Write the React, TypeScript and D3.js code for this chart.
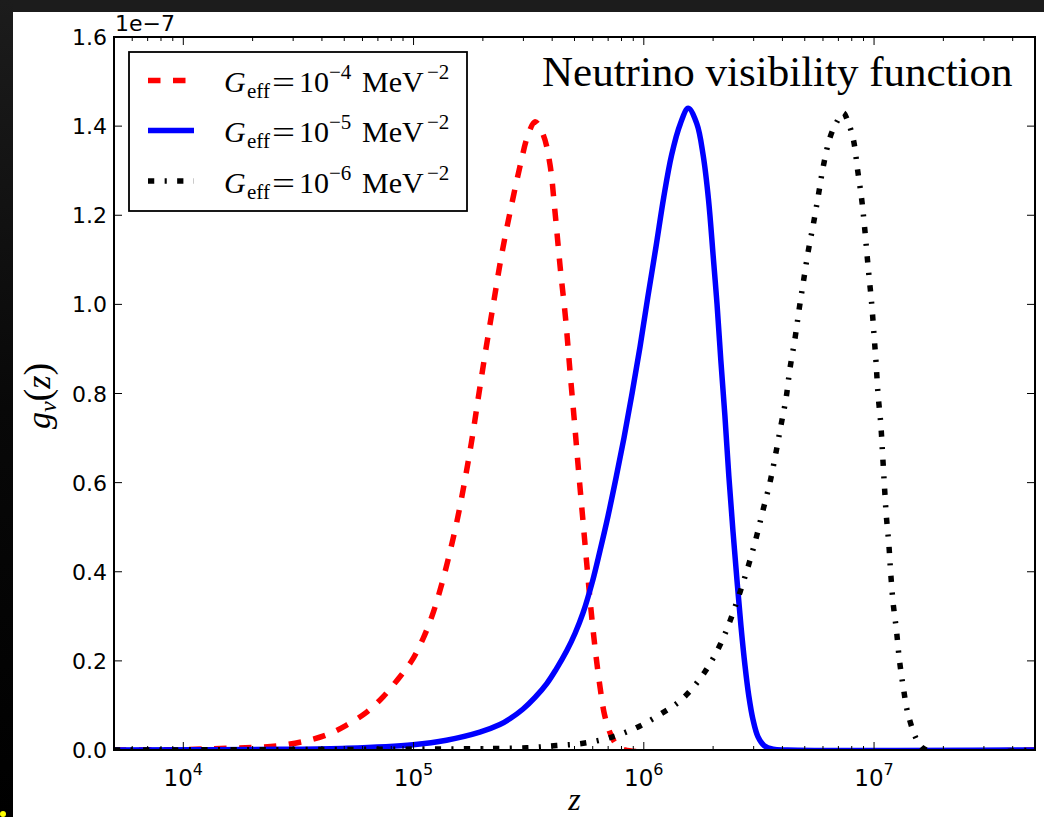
import React from 'react';
import * as d3 from 'd3';

// ---- data (g values in units of 1e-7) ----
const redZ = [5e3, 1e4, 1.6e4, 2.1e4, 2.63e4, 3.38e4, 4.2e4, 5.12e4, 6.26e4, 7.39e4, 8.59e4, 9.81e4, 1.1e5, 1.22e5, 1.33e5, 1.44e5, 1.56e5, 1.67e5, 1.79e5, 1.91e5, 2.04e5, 2.22e5, 2.41e5, 2.62e5, 2.9e5, 3.14e5, 3.37e5, 3.66e5, 3.91e5, 4.11e5, 4.33e5, 4.58e5, 4.78e5, 4.99e5, 5.20e5, 5.43e5, 5.67e5, 5.91e5, 6.17e5, 6.46e5, 6.76e5, 7.18e5, 7.64e5, 8.29e5, 5e7];
const redG = [0, 0.001, 0.004, 0.006, 0.010, 0.020, 0.034, 0.056, 0.085, 0.12, 0.16, 0.20, 0.25, 0.31, 0.375, 0.445, 0.525, 0.605, 0.695, 0.79, 0.885, 1.00, 1.11, 1.205, 1.31, 1.38, 1.41, 1.38, 1.315, 1.21, 1.085, 0.965, 0.85, 0.74, 0.63, 0.52, 0.41, 0.31, 0.22, 0.14, 0.078, 0.035, 0.011, 0, 0];

const blueZ = [5e3, 2.63e4, 5.14e4, 9.95e4, 1.39e5, 1.94e5, 2.37e5, 2.62e5, 2.99e5, 3.37e5, 3.79e5, 4.16e5, 4.62e5, 5.03e5, 5.44e5, 5.96e5, 6.45e5, 6.99e5, 7.57e5, 8.2e5, 8.89e5, 9.63e5, 1.04e6, 1.13e6, 1.22e6, 1.32e6, 1.44e6, 1.56e6, 1.70e6, 1.81e6, 1.91e6, 2.0e6, 2.08e6, 2.16e6, 2.25e6, 2.34e6, 2.44e6, 2.54e6, 2.64e6, 2.75e6, 2.86e6, 2.98e6, 3.13e6, 3.33e6, 3.64e6, 4.19e6, 5e7];
const blueG = [0, 0.0015, 0.004, 0.012, 0.022, 0.04, 0.057, 0.07, 0.092, 0.118, 0.149, 0.181, 0.222, 0.262, 0.307, 0.375, 0.447, 0.525, 0.61, 0.70, 0.80, 0.905, 1.015, 1.13, 1.24, 1.335, 1.405, 1.44, 1.405, 1.335, 1.235, 1.11, 1.00, 0.875, 0.75, 0.615, 0.49, 0.38, 0.28, 0.19, 0.12, 0.068, 0.03, 0.01, 0.002, 0, 0];

const blackZ = [5e3, 1e5, 3.1e5, 4.18e5, 5.46e5, 7.37e5, 9.63e5, 1.22e6, 1.38e6, 1.56e6, 1.84e6, 2.14e6, 2.37e6, 2.62e6, 2.87e6, 3.09e6, 3.30e6, 3.53e6, 3.71e6, 3.93e6, 4.15e6, 4.31e6, 4.54e6, 4.73e6, 4.93e6, 5.18e6, 5.45e6, 5.73e6, 6.02e6, 6.44e6, 6.9e6, 7.35e6, 7.7e6, 8.13e6, 8.49e6, 8.84e6, 9.07e6, 9.44e6, 9.77e6, 1.0e7, 1.02e7, 1.04e7, 1.07e7, 1.09e7, 1.11e7, 1.13e7, 1.16e7, 1.18e7, 1.21e7, 1.25e7, 1.29e7, 1.34e7, 1.41e7, 1.56e7, 1.69e7, 5e7];
const blackG = [0, 0.002, 0.005, 0.01, 0.015, 0.03, 0.054, 0.085, 0.103, 0.128, 0.175, 0.235, 0.29, 0.355, 0.42, 0.48, 0.54, 0.60, 0.655, 0.725, 0.79, 0.855, 0.925, 0.99, 1.05, 1.12, 1.18, 1.245, 1.31, 1.375, 1.41, 1.43, 1.41, 1.37, 1.30, 1.235, 1.18, 1.08, 1.00, 0.93, 0.87, 0.80, 0.73, 0.66, 0.59, 0.527, 0.46, 0.40, 0.33, 0.27, 0.20, 0.14, 0.077, 0.016, 0, 0];

const yTicks = [0, 0.2, 0.4, 0.6, 0.8, 1.0, 1.2, 1.4, 1.6];
const xTickExps = [4, 5, 6, 7];
const legendExps = ['\u22124', '\u22125', '\u22126'];

const W = 1044, H = 817;
const L = 114, R = 1035, T = 37, B = 750;

const series = [
  { z: redZ, g: redG, color: '#ff0000', dash: '12.5,12.5' },
  { z: blueZ, g: blueG, color: '#0000ff', dash: undefined },
  { z: blackZ, g: blackG, color: '#000000', dash: '6.25,10.4,2.1,10.4' },
];

export default function App() {
  const x = d3.scaleLog().domain([5e3, 5e7]).range([L, R]);
  const y = d3.scaleLinear().domain([0, 1.6]).range([B, T]);
  const line = d3
    .line<[number, number]>()
    .x((d) => x(d[0]))
    .y((d) => y(d[1]))
    .curve(d3.curveCatmullRom.alpha(0.5));

  const minor: number[] = [];
  for (let e = 3; e <= 7; e++) {
    for (let k = 2; k <= 9; k++) {
      const v = k * Math.pow(10, e);
      if (v > 5e3 && v < 5e7) minor.push(v);
    }
  }
  const major = xTickExps.map((e) => Math.pow(10, e));

  const sans = 'DejaVu Sans';
  const serif = 'Liberation Serif, DejaVu Serif, serif';
  const lw = 5.5;

  const legendRows = [80.5, 130.5, 181];
  const legendX0 = 148, legendX1 = 194;

  return (
    <svg width={W} height={H} style={{ position: 'absolute', left: 0, top: 0 }}>
      <defs>
        <clipPath id="plotclip">
          <rect x={L} y={T} width={R - L} height={B - T} />
        </clipPath>
        <linearGradient id="leftband" x1="0" y1="0" x2="0" y2="1">
          <stop offset="0" stopColor="#1c1c1c" />
          <stop offset="0.5" stopColor="#080808" />
          <stop offset="1" stopColor="#000000" />
        </linearGradient>
      </defs>
      <rect x={0} y={0} width={W} height={H} fill="#ffffff" />
      <rect x={0} y={0} width={W} height={12} fill="#1c1c1c" />
      <rect x={0} y={0} width={13} height={H} fill="url(#leftband)" />
      <circle cx={3} cy={814} r={3} fill="#ffff00" />

      {/* curves */}
      <g clipPath="url(#plotclip)">
        {series.map((s, i) => (
          <path
            key={i}
            d={line(s.z.map((z, j) => [z, s.g[j]] as [number, number])) || ''}
            fill="none"
            stroke={s.color}
            strokeWidth={lw}
            strokeDasharray={s.dash}
            strokeLinejoin="round"
          />
        ))}
      </g>

      {/* frame */}
      <rect x={L} y={T} width={R - L} height={B - T} fill="none" stroke="#000" strokeWidth={2} />

      {/* y ticks */}
      {yTicks.map((t) => (
        <g key={'y' + t}>
          <line x1={L} x2={L + 8} y1={y(t)} y2={y(t)} stroke="#000" strokeWidth={1} />
          <line x1={R} x2={R - 8} y1={y(t)} y2={y(t)} stroke="#000" strokeWidth={1} />
          <text x={107} y={y(t) + 8} textAnchor="end" fontFamily={sans} fontSize={22} fill="#000">
            {t.toFixed(1)}
          </text>
        </g>
      ))}

      {/* x ticks */}
      {major.map((t) => (
        <g key={'xM' + t}>
          <line x1={x(t)} x2={x(t)} y1={B} y2={B - 8} stroke="#000" strokeWidth={1} />
          <line x1={x(t)} x2={x(t)} y1={T} y2={T + 8} stroke="#000" strokeWidth={1} />
        </g>
      ))}
      {minor.map((t) => (
        <g key={'xm' + t}>
          <line x1={x(t)} x2={x(t)} y1={B} y2={B - 4} stroke="#000" strokeWidth={1} />
          <line x1={x(t)} x2={x(t)} y1={T} y2={T + 4} stroke="#000" strokeWidth={1} />
        </g>
      ))}
      {xTickExps.map((e) => (
        <text key={'xl' + e} x={x(Math.pow(10, e))} y={786} textAnchor="middle" fontFamily={sans} fontSize={23} fill="#000">
          <tspan>10</tspan>
          <tspan dy={-11} fontSize={16}>{String(e)}</tspan>
        </text>
      ))}

      {/* offset text */}
      <text x={115} y={31} fontFamily={sans} fontSize={22} fill="#000">1e{'\u2212'}7</text>

      {/* axis labels */}
      <text x={574.5} y={810} textAnchor="middle" fontFamily={serif} fontStyle="italic" fontSize={32} fill="#000">z</text>
      <text transform="translate(50,396) rotate(-90)" textAnchor="middle" fontFamily={serif} fontSize={34} fill="#000">
        <tspan fontStyle="italic">g</tspan>
        <tspan fontStyle="italic" fontSize={24} dy={6}>{'\u03bd'}</tspan>
        <tspan dy={-6} fontSize={38}>(</tspan>
        <tspan fontStyle="italic">z</tspan>
        <tspan fontSize={38}>)</tspan>
      </text>

      {/* title */}
      <text x={542} y={86} fontFamily={serif} fontSize={43} fill="#000">Neutrino visibility function</text>

      {/* legend */}
      <rect x={129} y={52} width={338} height={159} fill="#ffffff" stroke="#000" strokeWidth={1.8} />
      {series.map((s, i) => {
        const cy = legendRows[i];
        const by = cy + 11.5;
        return (
          <g key={'lg' + i} fontFamily={serif} fill="#000">
            <line x1={legendX0} x2={legendX1} y1={cy} y2={cy} stroke={s.color} strokeWidth={lw} strokeDasharray={s.dash} />
            <text x={224} y={by} fontSize={30} fontStyle="italic">G</text>
            <text x={247} y={by + 6} fontSize={21}>eff</text>
            <text x={272} y={by + 1} fontSize={32} textLength={23} lengthAdjust="spacingAndGlyphs">=</text>
            <text x={299} y={by} fontSize={30}>10</text>
            <text x={329} y={by - 13} fontSize={21}>{legendExps[i]}</text>
            <text x={362} y={by} fontSize={30}>MeV</text>
            <text x={427} y={by - 13} fontSize={21}>{'\u22122'}</text>
          </g>
        );
      })}
    </svg>
  );
}
